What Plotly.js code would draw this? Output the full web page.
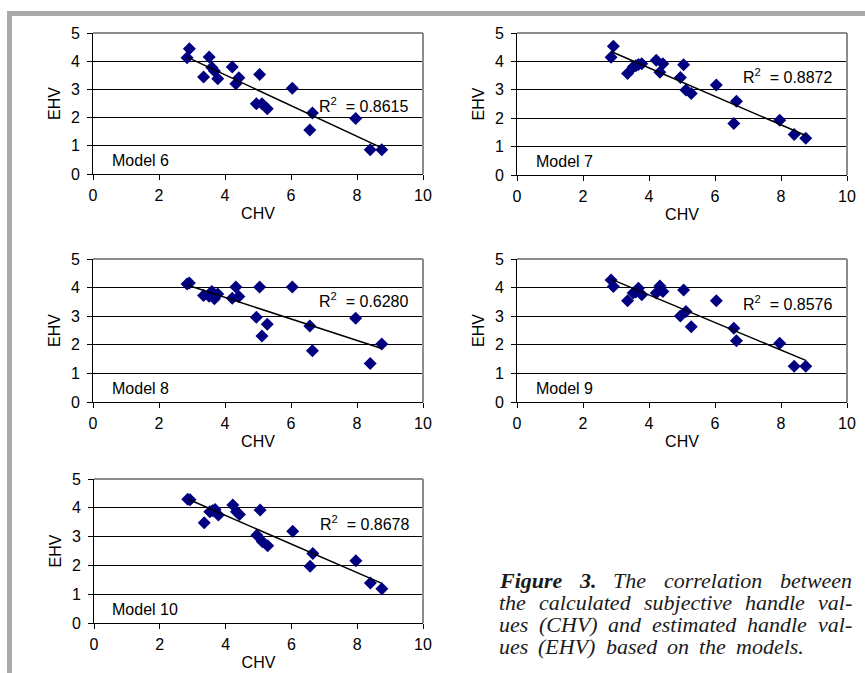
<!DOCTYPE html>
<html>
<head>
<meta charset="utf-8">
<script src="https://cdn.plot.ly/plotly-3.0.1.min.js"></script>
<style>html,body{margin:0;padding:0;background:#fff;}#chart{width:865px;height:673px;}</style>
</head>
<body>
<div id="chart"></div>
<script>
// Calculated subjective handle values (shared x values)
const CHV = [2.85, 2.92, 3.35, 3.52, 3.60, 3.68, 3.78, 4.22, 4.33, 4.42, 4.95, 5.05, 5.12, 5.28, 6.04, 6.57, 6.65, 7.96, 8.40, 8.75];
// Estimated handle values per model
const EHV_model6  = [4.12, 4.44, 3.44, 4.15, 3.78, 3.65, 3.38, 3.79, 3.20, 3.41, 2.49, 3.53, 2.49, 2.31, 3.04, 1.56, 2.16, 1.97, 0.86, 0.86];
const EHV_model7  = [4.15, 4.53, 3.57, 3.80, 3.85, 3.89, 3.92, 4.04, 3.62, 3.92, 3.43, 3.88, 2.99, 2.87, 3.17, 1.81, 2.60, 1.93, 1.43, 1.29];
const EHV_model8  = [4.13, 4.16, 3.72, 3.70, 3.86, 3.61, 3.78, 3.63, 4.02, 3.69, 2.96, 4.02, 2.31, 2.72, 4.02, 2.66, 1.79, 2.93, 1.35, 2.03];
const EHV_model9  = [4.27, 4.04, 3.54, 3.81, 3.85, 3.98, 3.75, 3.81, 4.06, 3.86, 3.01, 3.92, 3.16, 2.63, 3.54, 2.58, 2.14, 2.05, 1.25, 1.25];
const EHV_model10 = [4.30, 4.28, 3.48, 3.86, 3.90, 3.94, 3.75, 4.10, 3.86, 3.77, 3.05, 3.92, 2.82, 2.68, 3.19, 1.97, 2.41, 2.16, 1.39, 1.19];
const modelNames = ["Model 6", "Model 7", "Model 8", "Model 9", "Model 10"];
const rSquared = ["0.8615", "0.8872", "0.6280", "0.8576", "0.8678"];
const xTickVals = [0, 2, 4, 6, 8, 10];
const yTickVals = [0, 1, 2, 3, 4, 5];
// caption lines: words; words starting with "*" are bold
const captionLines = [
  ["*Figure", "*3.", "The", "correlation", "between"],
  ["the", "calculated", "subjective", "handle", "val-"],
  ["ues", "(CHV)", "and", "estimated", "handle", "val-"],
  ["ues", "(EHV)", "based", "on", "the", "models."]
];

const series = [EHV_model6, EHV_model7, EHV_model8, EHV_model9, EHV_model10];

const W = 865, H = 673;
// plot area pixel boxes [left, right, top, bottom]
const boxes = [
  [93, 423, 33, 174],
  [517, 847, 33, 175],
  [93, 423, 259, 402],
  [517, 847, 259, 402],
  [94, 423, 479, 623]
];
const rPos = [[6.8, 2.46], [6.8, 3.5], [6.8, 3.57], [6.8, 3.46], [6.8, 3.47]];

function fit(x, y) {
  const n = x.length;
  let sx = 0, sy = 0, sxx = 0, sxy = 0;
  for (let i = 0; i < n; i++) { sx += x[i]; sy += y[i]; sxx += x[i]*x[i]; sxy += x[i]*y[i]; }
  const b = (n*sxy - sx*sy) / (n*sxx - sx*sx);
  const a = (sy - b*sx) / n;
  return [a, b];
}

const font = {family: "Liberation Sans, Arial, sans-serif", size: 16, color: "#000"};
const traces = [];
const layout = {
  width: W, height: H,
  margin: {l: 0, r: 0, t: 0, b: 0},
  paper_bgcolor: "#fff", plot_bgcolor: "#fff",
  showlegend: false,
  font: font,
  shapes: [], annotations: []
};

series.forEach((ys, i) => {
  const k = i === 0 ? "" : String(i + 1);
  const xa = "x" + k, ya = "y" + k;
  const b = boxes[i];
  traces.push({
    type: "scatter", mode: "markers", x: CHV, y: ys, xaxis: xa, yaxis: ya,
    marker: {symbol: "diamond", size: 10, color: "#000080", line: {width: 0}},
    cliponaxis: false
  });
  const [a, s] = fit(CHV, ys);
  const xmin = Math.min(...CHV), xmax = Math.max(...CHV);
  traces.push({
    type: "scatter", mode: "lines", x: [xmin, xmax], y: [a + s*xmin, a + s*xmax],
    xaxis: xa, yaxis: ya, line: {color: "#000", width: 1.5}
  });
  layout["xaxis" + k] = {
    domain: [b[0]/W, b[1]/W], anchor: ya, range: [0, 10],
    tickvals: xTickVals, ticks: "outside", ticklen: 5, tickcolor: "#000", tickwidth: 1,
    showline: true, linecolor: "#000", linewidth: 1, showgrid: false, zeroline: false,
    tickfont: font, ticklabelstandoff: 2,
    title: {text: "CHV", font: font, standoff: 4}, fixedrange: true
  };
  layout["yaxis" + k] = {
    domain: [1 - b[3]/H, 1 - b[2]/H], anchor: xa, range: [0, 5],
    tickvals: yTickVals, ticks: "outside", ticklen: 5, tickcolor: "#000", tickwidth: 1,
    showline: true, linecolor: "#000", linewidth: 1, showgrid: true, gridcolor: "#000", gridwidth: 1,
    zeroline: false, tickfont: font, ticklabelstandoff: 4,
    title: {text: "EHV", font: font, standoff: 6}, fixedrange: true
  };
  layout.shapes.push({type: "line", xref: xa + " domain", yref: ya + " domain", x0: 0, x1: 1, y0: 1, y1: 1, line: {color: "#8c8c8c", width: 2}, layer: "above"});
  layout.shapes.push({type: "line", xref: xa + " domain", yref: ya + " domain", x0: 1, x1: 1, y0: 0, y1: 1, line: {color: "#8c8c8c", width: 2}, layer: "above"});
  layout.annotations.push({
    xref: xa, yref: ya, x: rPos[i][0], y: rPos[i][1], xanchor: "left", yanchor: "middle",
    text: "R<sup>2</sup>\u00A0\u00A0= " + rSquared[i], showarrow: false, font: font
  });
  layout.annotations.push({
    xref: xa, yref: ya, x: 0.5, y: 0.48, xanchor: "left", yanchor: "middle",
    text: modelNames[i], showarrow: false, font: font
  });
});

// outer frame (gray)
layout.shapes.push({type: "line", xref: "paper", yref: "paper", x0: 7/W, x1: 1, y0: 1 - 13.5/H, y1: 1 - 13.5/H, line: {color: "#aaaaaa", width: 5}});
layout.shapes.push({type: "line", xref: "paper", yref: "paper", x0: 9.5/W, x1: 9.5/W, y0: 1 - 11/H, y1: 0, line: {color: "#aaaaaa", width: 5}});

// caption, justified using measured word widths
const capSize = 22;
const capFamily = "Liberation Serif, Times New Roman, serif";
const capY = [580, 602, 624, 646];
const capLeft = 497;
const capRight = [850, 850, 850, 802];
const ctx = document.createElement("canvas").getContext("2d");
function wordWidth(w, bold) {
  ctx.font = "italic " + (bold ? "bold " : "") + capSize + "px 'Liberation Serif', serif";
  return ctx.measureText(w).width;
}
captionLines.forEach((words, li) => {
  const info = words.map(w => {
    const bold = w[0] === "*";
    const txt = bold ? w.slice(1) : w;
    return {txt, bold, w: wordWidth(txt, bold)};
  });
  const total = info.reduce((s, o) => s + o.w, 0);
  const gap = (capRight[li] - capLeft - total) / (info.length - 1);
  let x = capLeft;
  info.forEach(o => {
    layout.annotations.push({
      xref: "paper", yref: "paper", x: x/W, y: 1 - capY[li]/H, xanchor: "left", yanchor: "middle",
      text: "<i>" + (o.bold ? "<b>" + o.txt + "</b>" : o.txt) + "</i>", showarrow: false,
      font: {family: capFamily, size: capSize, color: "#1a1a1a"}
    });
    x += o.w + gap;
  });
});

Plotly.newPlot("chart", traces, layout, {staticPlot: true});
</script>
</body>
</html>
